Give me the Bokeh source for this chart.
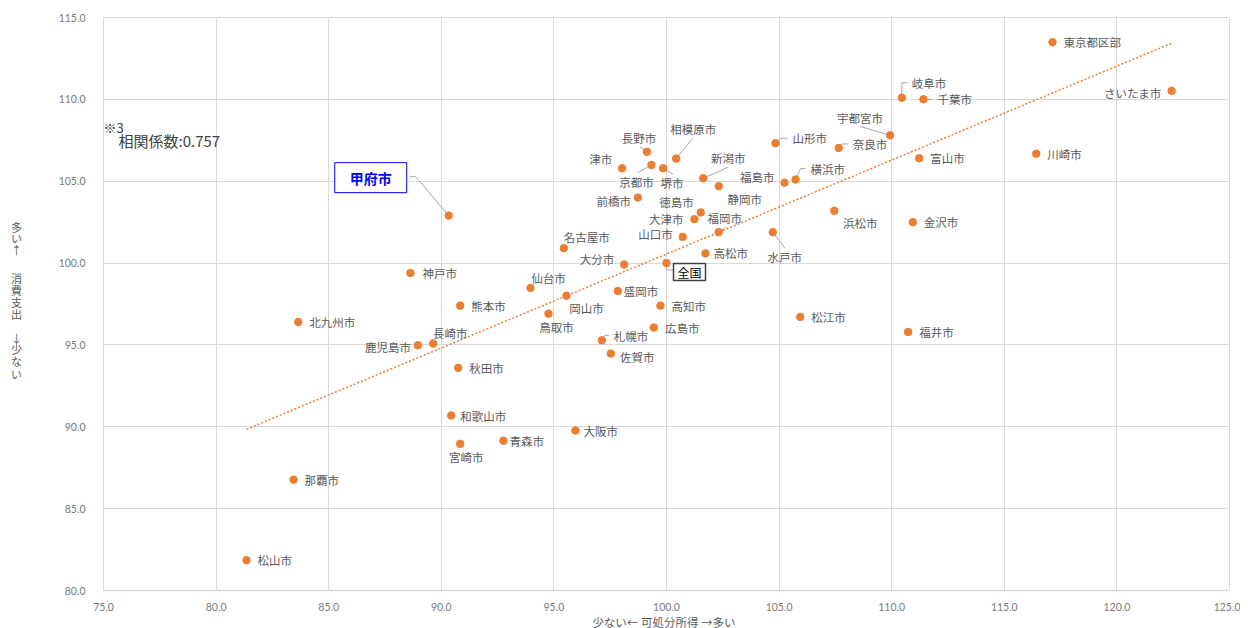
import numpy as np
from bokeh.plotting import figure
from bokeh.layouts import row, column
from bokeh.models import Range1d, FixedTicker, PrintfTickFormatter, Label
from bokeh.core.properties import value
from bokeh.embed import file_html
from bokeh.resources import INLINE

# ---------------- data (index, 全国=100) ----------------
cities = ["甲府市", "長野市", "相模原市", "津市", "京都市", "堺市", "新潟市", "静岡市", "福島市", "横浜市",
          "山形市", "前橋市", "徳島市", "大津市", "福岡市", "山口市", "名古屋市", "大分市", "全国", "高松市",
          "水戸市", "神戸市", "仙台市", "岡山市", "盛岡市", "高知市", "熊本市", "鳥取市", "広島市", "札幌市",
          "佐賀市", "長崎市", "鹿児島市", "秋田市", "北九州市", "和歌山市", "大阪市", "青森市", "宮崎市", "那覇市",
          "松山市", "東京都区部", "岐阜市", "千葉市", "さいたま市", "宇都宮市", "奈良市", "富山市", "川崎市", "浜松市",
          "金沢市", "福井市", "松江市"]
income = [90.33, 99.13, 100.43, 98.03, 99.33, 99.85, 101.63, 102.32, 105.24, 105.73,
          104.84, 98.73, 101.52, 101.24, 102.32, 100.72, 95.44, 98.12, 100.00, 101.73,
          104.72, 88.63, 93.96, 95.56, 97.84, 99.73, 90.84, 94.76, 99.44, 97.13,
          97.53, 89.64, 88.96, 90.75, 83.65, 90.44, 95.96, 92.76, 90.84, 83.44,
          81.35, 117.14, 110.45, 111.41, 122.43, 109.93, 107.65, 111.22, 116.42, 107.45,
          110.94, 110.73, 105.94]
spending = [102.90, 106.80, 106.38, 105.79, 105.99, 105.79, 105.18, 104.70, 104.91, 105.10,
            107.32, 104.00, 103.09, 102.68, 101.89, 101.60, 100.91, 99.91, 100.00, 100.59,
            101.89, 99.39, 98.48, 98.01, 98.29, 97.40, 97.40, 96.91, 96.06, 95.28,
            94.47, 95.08, 94.98, 93.60, 96.40, 90.69, 89.77, 89.15, 88.96, 86.77,
            81.85, 113.49, 110.10, 110.00, 110.52, 107.80, 107.03, 106.40, 106.68, 103.19,
            102.50, 95.79, 96.71]
x_ticks = [75, 80, 85, 90, 95, 100, 105, 110, 115, 120, 125]
y_ticks = [80, 85, 90, 95, 100, 105, 110, 115]
x_title = "少ない←  可処分所得  →多い"
y_title_chars = ["多", "い", "↑", "消", "費", "支", "出", "↓", "少", "な", "い"]
note1 = "※3"
note2 = "相関係数:0.757"

# ---------------- layout / label placement (screen pixels, style only) ----------------
Y_TITLE_PIX = [224, 236, 249, 279, 292, 304, 317, 343, 355, 368, 381]   # y of each title char
PLACE = {
    "長野市": ("center", -8, -14), "相模原市": ("center", 17, -30), "津市": ("right", -10, -9),
    "京都市": ("center", -15, 17), "堺市": ("center", 9, 15), "新潟市": ("center", 25, -20),
    "静岡市": ("center", 26, 13), "福島市": ("right", -10, -6), "横浜市": ("left", 15, -11),
    "山形市": ("left", 17, -5), "前橋市": ("right", -7, 3), "徳島市": ("right", -7, -11),
    "大津市": ("right", -11, 0), "福岡市": ("center", 6, -14), "山口市": ("right", -10, -3),
    "名古屋市": ("center", 23, -11), "大分市": ("right", -10, -6), "高松市": ("left", 8, 0),
    "水戸市": ("center", 12, 25), "神戸市": ("left", 12, 0), "仙台市": ("center", 18, -10),
    "岡山市": ("center", 20, 12), "盛岡市": ("left", 6, 0), "鳥取市": ("center", 8, 13),
    "札幌市": ("left", 12, -4), "佐賀市": ("left", 9, 3), "長崎市": ("center", 17, -11),
    "鹿児島市": ("right", -7, 2), "和歌山市": ("left", 9, 1), "大阪市": ("left", 8, 0),
    "青森市": ("left", 6, 0), "宮崎市": ("center", 6, 13), "岐阜市": ("left", 10, -15),
    "千葉市": ("left", 14, 0), "さいたま市": ("right", -10, 2), "宇都宮市": ("center", -30, -17),
    "奈良市": ("left", 14, -4), "浜松市": ("center", 26, 12),
}
LEADERS = {
    "甲府市": [(-33, -39), (-39, -39)], "長野市": [(-7, -5)], "相模原市": [(17, -21)],
    "京都市": [(-14, 8)], "堺市": [(10, 6)], "新潟市": [(25, -11)],
    "横浜市": [(5, -11), (10, -11)], "山形市": [(5, -5), (12, -5)], "福岡市": [(7, -5)],
    "全国": [(0, 7), (7, 7)], "水戸市": [(12, 16)], "札幌市": [(3, -5), (7, -5)],
    "岐阜市": [(0, -15), (6, -15)], "千葉市": [(9, 0)], "宇都宮市": [(-30, -9)],
    "奈良市": [(3, -4), (10, -4)],
}

H = 613                      # main figure height
HB = 15                      # bottom strip (x title)
TW = 28                      # left strip (vertical y title)
W = 1212                     # main figure width
BL, BT, FW, FH = 103 - TW, 17, 1126, 574
BR, BB = W - BL - FW, H - BT - FH
X0, X1, Y0, Y1 = 75, 125, 80, 115
sx = (X1 - X0) / FW
sy = (Y1 - Y0) / FH

ORANGE = "#ED7D31"
GRID = "#d9d9d9"
LABEL_C = "#595959"
JPN = "Noto Sans CJK JP"
JP = value(JPN)

p = figure(width=W, height=H, output_backend="svg", toolbar_location=None,
           x_range=Range1d(X0, X1), y_range=Range1d(Y0, Y1),
           min_border_left=BL, min_border_right=BR, min_border_top=BT, min_border_bottom=BB)
p.background_fill_color = "white"
p.border_fill_color = "white"
p.outline_line_color = GRID

for ax, ticks in ((p.xaxis, x_ticks), (p.yaxis, y_ticks)):
    ax.ticker = FixedTicker(ticks=ticks)
    ax.formatter = PrintfTickFormatter(format="%.1f")
    ax.major_tick_line_color = None
    ax.minor_tick_line_color = None
    ax.axis_line_color = GRID
    ax.major_label_text_font = "Lato"
    ax.major_label_text_font_size = "10.5px"
    ax.major_label_text_color = "#7a7a7a"
p.xaxis.axis_line_width = 1.5
p.xaxis.major_label_standoff = 6
p.yaxis.major_label_standoff = 12

p.xgrid.grid_line_color = GRID
p.ygrid.grid_line_color = GRID

# leader lines
xs, ys = [], []
for c, pts in LEADERS.items():
    i = cities.index(c)
    xs.append([income[i]] + [income[i] + dx * sx for dx, dy in pts])
    ys.append([spending[i]] + [spending[i] - dy * sy for dx, dy in pts])
p.multi_line(xs, ys, line_color="#a6a6a6", line_width=1)

# linear trend (cities only)
ca = np.array([c != "全国" for c in cities])
xa = np.array(income)[ca]
ya = np.array(spending)[ca]
k, b = np.polyfit(xa, ya, 1)
tx = np.array([xa.min(), xa.max()])
p.line(tx, k * tx + b, line_color=ORANGE, line_width=1.5, line_dash="2 2")

# points
p.scatter(income, spending, size=7.5, fill_color=ORANGE, line_color=ORANGE)

# labels
groups = {"left": ([], [], []), "right": ([], [], []), "center": ([], [], [])}
for c, xi, yi in zip(cities, income, spending):
    if c in ("甲府市", "全国"):
        continue
    a, dx, dy = PLACE.get(c, ("left", 11, 0))
    g = groups[a]
    g[0].append(xi + dx * sx)
    g[1].append(yi - dy * sy)
    g[2].append(c)
for a, (gx, gy, gt) in groups.items():
    p.text(gx, gy, text=gt, text_font=JP, text_font_size="11.5px", text_color=LABEL_C,
           text_align=a, text_baseline="middle")

# highlighted boxes
i = cities.index("甲府市")
kx, ky = income[i] - 78 * sx, spending[i] + 38 * sy
p.rect([kx], [ky], width=72, height=30, width_units="screen", height_units="screen",
       fill_color="white", line_color="#0000FF", line_width=1)
p.text([kx], [ky], text=[cities[i]], text_font=JP, text_font_size="14px", text_font_style="bold",
       text_color="#0000FF", text_align="center", text_baseline="middle")

i = cities.index("全国")
gx, gy = income[i] + 23 * sx, spending[i] - 9 * sy
p.rect([gx], [gy], width=32, height=17, width_units="screen", height_units="screen",
       fill_color="white", line_color="#404040", line_width=1.5)
p.text([gx], [gy], text=[cities[i]], text_font=JP, text_font_size="12px",
       text_color="#000000", text_align="center", text_baseline="middle")

# correlation note
p.add_layout(Label(x=X0, y=Y1 - 110 * sy, text=note1, text_font=JPN,
                   text_font_size="13px", text_color="#404040", text_baseline="middle"))
p.add_layout(Label(x=X0 + 15 * sx, y=Y1 - 123 * sy, text=note2, text_font=JPN,
                   text_font_size="15px", text_color="#404040", text_baseline="middle"))


def strip(w, h):
    f = figure(width=w, height=h, output_backend="svg", toolbar_location=None,
               x_range=Range1d(0, w), y_range=Range1d(0, h), min_border=0,
               x_axis_location=None, y_axis_location=None)
    f.grid.visible = False
    f.outline_line_color = None
    f.background_fill_color = "white"
    f.border_fill_color = "white"
    return f


# vertical y title in a narrow strip at the left
t = strip(TW, H)
t.text([16] * len(y_title_chars), [H - v for v in Y_TITLE_PIX], text=y_title_chars, text_font=JP,
       text_font_size="11px", text_color=LABEL_C, text_align="center", text_baseline="middle")

# x title in a thin strip below
bstrip = strip(TW + W, HB)
bstrip.text([TW + BL + FW / 2], [HB - (621 - H)], text=[x_title], text_font=JP,
            text_font_size="11.5px", text_color=LABEL_C, text_align="center", text_baseline="middle")

layout = column(row(t, p, spacing=0), bstrip, spacing=0)
open("out.html", "w").write(file_html(layout, INLINE))
